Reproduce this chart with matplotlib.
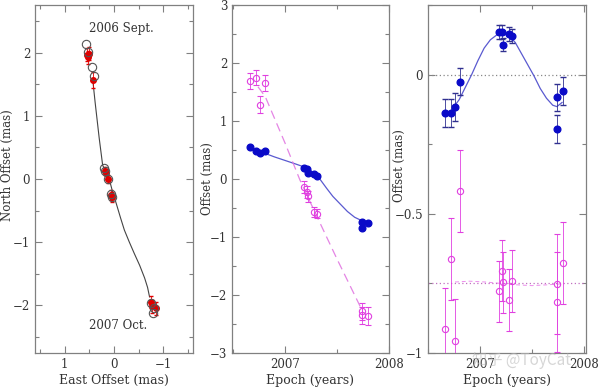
import matplotlib
matplotlib.use("Agg")
import matplotlib.pyplot as plt
from matplotlib.ticker import MultipleLocator

plt.rcParams['font.family'] = ['DejaVu Serif']

# ---------------- Panel 1: sky track ----------------
east_obs = [0.55, 0.50, 0.52, 0.43, 0.19, 0.17, 0.12, 0.06, 0.05, -0.74, -0.76, -0.86]
north_obs = [1.97, 1.99, 1.93, 1.57, 0.13, 0.10, 0.00, -0.25, -0.28, -1.95, -2.02, -2.05]
east_mod = [0.57, 0.52, 0.455, 0.41, 0.20, 0.19, 0.12, 0.06, 0.04, -0.74, -0.79, -0.82]
north_mod = [2.14, 2.02, 1.78, 1.63, 0.17, 0.12, 0.00, -0.23, -0.29, -1.97, -2.13, -2.05]
north_err = [0.10, 0.10, 0.10, 0.12, 0.06, 0.06, 0.06, 0.08, 0.08, 0.10, 0.10, 0.10]
track_east = [0.43, 0.38, 0.30, 0.23, 0.15, 0.08, 0.03, -0.05, -0.13, -0.21, -0.31,
              -0.41, -0.52, -0.62, -0.68, -0.72]
track_north = [1.57, 1.20, 0.65, 0.22, 0.08, -0.05, -0.20, -0.40, -0.61, -0.81, -1.00,
               -1.18, -1.37, -1.57, -1.72, -1.87]

# ---------------- Panel 2: offsets vs epoch ----------------
epochs = [2006.663, 2006.718, 2006.760, 2006.808, 2007.186, 2007.209,
          2007.224, 2007.282, 2007.305, 2007.743, 2007.743, 2007.795]
blue_off = [0.55, 0.48, 0.44, 0.49, 0.195, 0.17, 0.11, 0.08, 0.05, -0.735, -0.84, -0.75]
blue_err = [0.03] * 12
mag_off = [1.69, 1.75, 1.28, 1.66, -0.14, -0.22, -0.30, -0.57, -0.60, -2.28, -2.35, -2.36]
mag_err = [0.14, 0.13, 0.15, 0.14, 0.10, 0.10, 0.10, 0.08, 0.08, 0.15, 0.15, 0.15]
blue_fit_t = [2006.81, 2006.90, 2007.00, 2007.10, 2007.18, 2007.25, 2007.31,
              2007.40, 2007.46, 2007.53, 2007.60, 2007.67, 2007.74]
blue_fit_y = [0.44, 0.38, 0.32, 0.26, 0.21, 0.14, 0.06, -0.16, -0.30, -0.43, -0.56, -0.66, -0.72]
mag_fit_t = [2006.74, 2006.81, 2007.00, 2007.144, 2007.30, 2007.50, 2007.74]
mag_fit_y = [1.59, 1.42, 0.62, -0.02, -0.62, -1.38, -2.26]

# ---------------- Panel 3: residual offsets ----------------
blue_res = [-0.137, -0.137, -0.115, -0.025, 0.152, 0.152, 0.108, 0.147, 0.138, -0.082, -0.195, -0.06]
blue_res_err = [0.05, 0.05, 0.05, 0.05, 0.025, 0.025, 0.025, 0.025, 0.025, 0.05, 0.05, 0.05]
mag_res = [-0.915, -0.661, -0.957, -0.417, -0.778, -0.705, -0.746, -0.81, -0.741, -0.751, -0.818, -0.677]
mag_res_err = [0.15, 0.147, 0.15, 0.147, 0.11, 0.11, 0.11, 0.11, 0.11, 0.18, 0.18, 0.148]
res_fit_t = [2006.74, 2006.80, 2006.86, 2006.92, 2006.98, 2007.04, 2007.10, 2007.16, 2007.22,
             2007.28, 2007.34, 2007.40, 2007.46, 2007.52, 2007.58, 2007.64, 2007.70, 2007.74, 2007.79]
res_fit_y = [-0.12, -0.09, -0.045, 0.0, 0.05, 0.095, 0.125, 0.142, 0.147, 0.14, 0.115, 0.075,
             0.035, -0.005, -0.05, -0.085, -0.11, -0.115, -0.10]
mag_res_fit_t = [2006.76, 2006.90, 2007.05, 2007.20, 2007.35, 2007.50, 2007.65, 2007.78]
mag_res_fit_y = [-0.745, -0.742, -0.745, -0.75, -0.755, -0.758, -0.755, -0.752]

BLUE = '#0a0ac8'
BLUE_LINE = '#5a5ad0'
MAG = '#e040e0'
MAG_LINE = '#e070e0'
RED = '#e00000'
TXT = '#333333'
FRAME = '#808080'

fig = plt.figure(figsize=(6.0, 3.89), dpi=100)
H = 389.0
W = 600.0

def mkax(left_px, right_px):
    return fig.add_axes([left_px / W, (H - 353) / H, (right_px - left_px) / W, 348 / H])

ax1 = mkax(35, 193)
ax2 = mkax(232, 389)
ax3 = mkax(428, 586)

def style(ax):
    for s in ax.spines.values():
        s.set_color(FRAME)
        s.set_linewidth(0.9)
    ax.tick_params(which='both', direction='in', top=True, right=True,
                   color=FRAME, labelcolor=TXT, labelsize=8.5, width=0.8)
    ax.tick_params(which='major', length=5)
    ax.tick_params(which='minor', length=3)

# Panel 1
style(ax1)
ax1.plot(track_east, track_north, color='#444444', lw=0.8)
ax1.errorbar(east_obs, north_obs, yerr=north_err, fmt='o', color=RED, ms=4,
             elinewidth=0.6, capsize=1.5, zorder=3)
ax1.plot(east_mod, north_mod, 'o', mfc='none', mec='#555555', ms=6, mew=0.8, zorder=4)
ax1.set_xlim(1.6, -1.6)
ax1.set_ylim(-2.76, 2.76)
ax1.xaxis.set_major_locator(MultipleLocator(1))
ax1.xaxis.set_minor_locator(MultipleLocator(0.5))
ax1.yaxis.set_major_locator(MultipleLocator(1))
ax1.yaxis.set_minor_locator(MultipleLocator(0.5))
ax1.set_xlabel('East Offset (mas)', color=TXT, fontsize=9, labelpad=2)
ax1.set_ylabel('North Offset (mas)', color=TXT, fontsize=8.5)
ax1.yaxis.set_label_coords(-0.135, 0.54)
ax1.text(-0.14, 2.38, '2006 Sept.', ha='center', va='center', color=TXT, fontsize=8.5)
ax1.text(-0.08, -2.32, '2007 Oct.', ha='center', va='center', color=TXT, fontsize=8.5)

# Panel 2
style(ax2)
ax2.plot(blue_fit_t, blue_fit_y, color=BLUE_LINE, lw=0.9)
ax2.plot(mag_fit_t, mag_fit_y, color=MAG_LINE, lw=0.9, ls=(0, (7, 4)), alpha=0.85)
ax2.errorbar(epochs, mag_off, yerr=mag_err, fmt='o', mfc='none', mec=MAG, color=MAG,
             ms=4.5, mew=0.8, elinewidth=0.6, capsize=2, zorder=3)
ax2.errorbar(epochs, blue_off, yerr=blue_err, fmt='o', color=BLUE, ms=4.8,
             elinewidth=0.6, capsize=1.5, zorder=4)
ax2.set_xlim(2006.49, 2008.0)
ax2.set_ylim(-3, 3)
ax2.xaxis.set_major_locator(MultipleLocator(1))
ax2.xaxis.set_minor_locator(MultipleLocator(0.5))
ax2.yaxis.set_major_locator(MultipleLocator(1))
ax2.yaxis.set_minor_locator(MultipleLocator(0.5))
ax2.xaxis.set_major_formatter(plt.FuncFormatter(lambda v, p: '%d' % round(v)))
ax2.set_xlabel('Epoch (years)', color=TXT, fontsize=9, labelpad=2)
ax2.set_ylabel('Offset (mas)', color=TXT, fontsize=8.5)
ax2.yaxis.set_label_coords(-0.115, 0.5)

# Panel 3
style(ax3)
ax3.axhline(0, color='#888888', lw=0.9, ls=(0, (1, 2)))
ax3.axhline(-0.75, color='#c070c0', lw=0.9, ls=(0, (1, 2)))
ax3.plot(res_fit_t, res_fit_y, color=BLUE_LINE, lw=0.9)
ax3.plot(mag_res_fit_t, mag_res_fit_y, color=MAG, lw=0.7, ls=(0, (4, 3)), alpha=0.6)
ax3.errorbar(epochs, mag_res, yerr=mag_res_err, fmt='o', mfc='none', mec=MAG, color=MAG,
             ms=4.5, mew=0.8, elinewidth=0.6, capsize=2, zorder=3)
ax3.errorbar(epochs, blue_res, yerr=blue_res_err, fmt='o', color=BLUE, ms=4.8,
             ecolor='#303090', elinewidth=0.6, capsize=2, zorder=4)
ax3.set_xlim(2006.5, 2008.02)
ax3.set_ylim(-1.0, 0.25)
ax3.xaxis.set_major_locator(MultipleLocator(1))
ax3.xaxis.set_minor_locator(MultipleLocator(0.5))
ax3.yaxis.set_major_locator(MultipleLocator(0.5))
ax3.yaxis.set_minor_locator(MultipleLocator(0.25))
ax3.xaxis.set_major_formatter(plt.FuncFormatter(lambda v, p: '%d' % round(v)))
ax3.yaxis.set_major_formatter(plt.FuncFormatter(
    lambda v, p: '0' if abs(v) < 1e-9 else ('%g' % v).replace('-', '\u2212')))
ax3.set_xlabel('Epoch (years)', color=TXT, fontsize=9, labelpad=2)
ax3.set_ylabel('Offset (mas)', color=TXT, fontsize=8.5)
ax3.yaxis.set_label_coords(-0.14, 0.54)

fig.text(0.87, 0.073, '知乎 @ToyCat', ha='center', va='center', fontsize=11,
         color='#bbbbbb', alpha=0.6, family=['Noto Sans CJK SC', 'DejaVu Sans'])

fig.savefig('out.png', dpi=100)
